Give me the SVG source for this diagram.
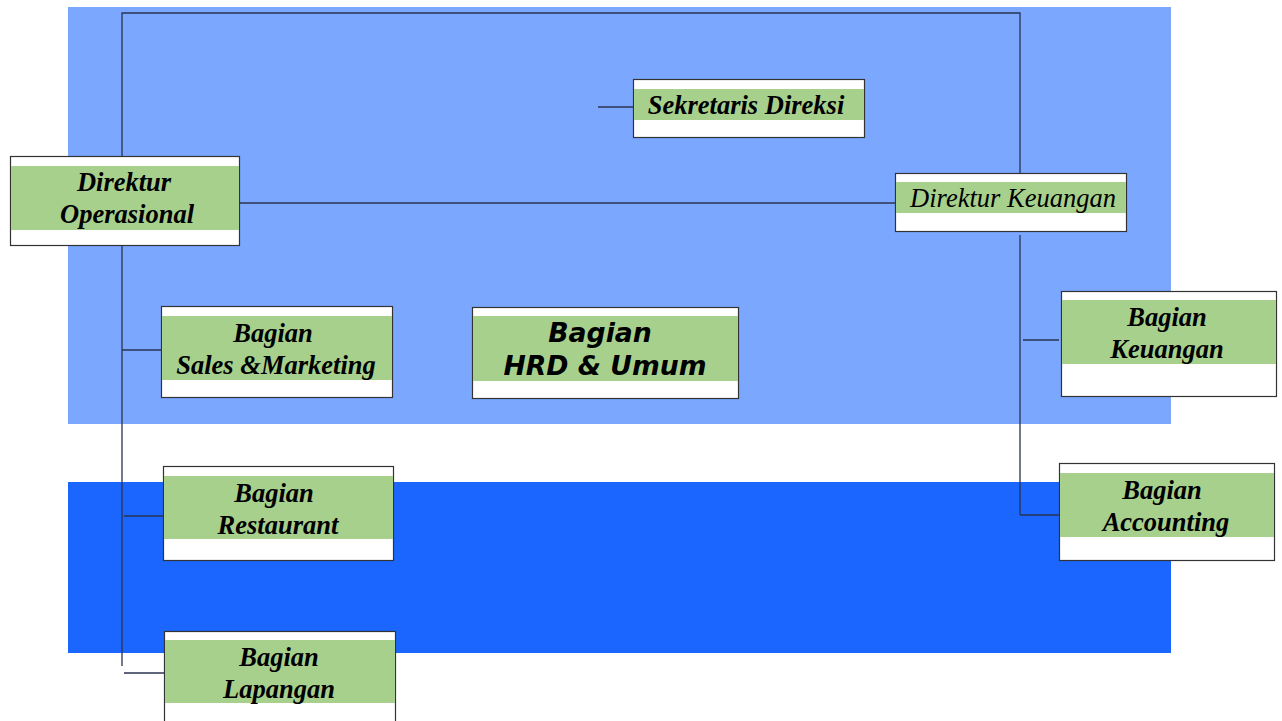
<svg xmlns="http://www.w3.org/2000/svg" width="1282" height="721" viewBox="0 0 1282 721">
<style>
.box{fill:#fff;stroke:#333;stroke-width:1.2}
.band{fill:#a8d08d}
.t{font-family:"Liberation Serif",serif;font-weight:bold;font-style:italic;font-size:26.5px;fill:#000;text-anchor:middle}
.tn{font-family:"Liberation Serif",serif;font-style:italic;font-size:26.5px;fill:#000;text-anchor:middle}
.ts{font-family:"DejaVu Sans",sans-serif;font-weight:bold;font-style:italic;font-size:26.7px;fill:#000;text-anchor:middle}
.c{stroke:#2a3350;stroke-width:1.3;fill:none}
</style>
<rect x="0" y="0" width="1282" height="721" fill="#fff"/>
<rect x="68" y="7" width="1103" height="417" fill="#7ba7ff"/>
<rect x="68" y="482" width="1103" height="171" fill="#1a66ff"/>
<g id="connectors">
<polyline class="c" points="122,157 122,13 1020,13 1020,173"/>
<line class="c" x1="240" y1="203" x2="895" y2="203"/>
<line class="c" x1="598" y1="107" x2="633" y2="107"/>
<line class="c" x1="1020" y1="235" x2="1020" y2="515"/>
<line class="c" x1="1023" y1="340" x2="1059" y2="340"/>
<line class="c" x1="1020" y1="515" x2="1059" y2="515"/>
<line class="c" x1="122" y1="246" x2="122" y2="666"/>
<line class="c" x1="122" y1="350" x2="161" y2="350"/>
<line class="c" x1="124" y1="516" x2="163" y2="516"/>
<line class="c" x1="124" y1="673" x2="164" y2="673"/>
</g>
<g id="direktur-operasional">
<rect class="box" x="10.5" y="156.5" width="229" height="89"/>
<rect class="band" x="11" y="166" width="228" height="64"/>
<text class="t" x="124" y="191">Direktur</text>
<text class="t" x="127" y="223">Operasional</text>
</g>
<g id="sekretaris-direksi">
<rect class="box" x="633.5" y="79.5" width="231" height="58"/>
<rect class="band" x="634" y="89" width="230" height="31"/>
<text class="t" x="746" y="114">Sekretaris Direksi</text>
</g>
<g id="direktur-keuangan">
<rect class="box" x="895.5" y="173.5" width="231" height="58"/>
<rect class="band" x="896" y="182" width="230" height="31"/>
<text class="tn" x="1013" y="207">Direktur Keuangan</text>
</g>
<g id="bagian-sales-marketing">
<rect class="box" x="161.5" y="306.5" width="231" height="91"/>
<rect class="band" x="162" y="316" width="230" height="64"/>
<text class="t" x="273" y="342">Bagian</text>
<text class="t" x="276" y="374">Sales &amp;Marketing</text>
</g>
<g id="bagian-hrd-umum">
<rect class="box" x="472.5" y="307.5" width="266" height="91"/>
<rect class="band" x="473" y="316" width="265" height="65"/>
<text class="ts" x="600" y="342">Bagian</text>
<text class="ts" x="605" y="375">HRD &amp; Umum</text>
</g>
<g id="bagian-keuangan">
<rect class="box" x="1061.5" y="291.5" width="215" height="105"/>
<rect class="band" x="1062" y="300" width="214" height="64"/>
<text class="t" x="1167" y="326">Bagian</text>
<text class="t" x="1167" y="358">Keuangan</text>
</g>
<g id="bagian-accounting">
<rect class="box" x="1059.5" y="463.5" width="215" height="97"/>
<rect class="band" x="1060" y="473" width="214" height="64"/>
<text class="t" x="1162" y="499">Bagian</text>
<text class="t" x="1166" y="531">Accounting</text>
</g>
<g id="bagian-restaurant">
<rect class="box" x="163.5" y="466.5" width="230" height="94"/>
<rect class="band" x="164" y="476" width="229" height="63"/>
<text class="t" x="274" y="502">Bagian</text>
<text class="t" x="278" y="534">Restaurant</text>
</g>
<g id="bagian-lapangan">
<rect class="box" x="164.5" y="631.5" width="231" height="95"/>
<rect class="band" x="165" y="640" width="230" height="63"/>
<text class="t" x="279" y="666">Bagian</text>
<text class="t" x="279" y="698">Lapangan</text>
</g>
</svg>
